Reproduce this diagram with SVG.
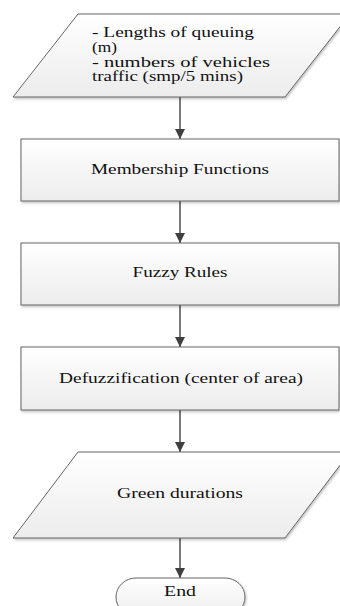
<svg xmlns="http://www.w3.org/2000/svg" width="340" height="606" viewBox="0 0 340 606">
<defs>
<linearGradient id="g" x1="0" y1="0" x2="0" y2="1">
<stop offset="0" stop-color="#ffffff"/>
<stop offset="1" stop-color="#ececec"/>
</linearGradient>
<marker id="ah" viewBox="0 0 10 10" refX="10" refY="5" markerWidth="10" markerHeight="10" markerUnits="userSpaceOnUse" orient="auto">
<path d="M0,0 L10,5 L0,10 z" fill="#3f3f3f"/>
</marker>
<filter id="sh" x="-5%" y="-5%" width="115%" height="120%">
<feDropShadow dx="1" dy="1.5" stdDeviation="0.8" flood-color="#000" flood-opacity="0.25"/>
</filter>
</defs>
<style>
.shape{fill:url(#g);stroke:#666666;stroke-width:1;filter:url(#sh)}
text{font-family:'Liberation Serif','Times New Roman','DejaVu Serif',serif;font-size:14px;fill:#111}
.c{text-anchor:middle}
.conn{stroke:#3f3f3f;stroke-width:1.4;fill:none;marker-end:url(#ah)}
</style>
<rect width="340" height="606" fill="#ffffff"/>
<g id="connectors">
<line class="conn" x1="180" y1="97" x2="180" y2="139"/>
<line class="conn" x1="180" y1="201" x2="180" y2="243"/>
<line class="conn" x1="180" y1="305" x2="180" y2="347"/>
<line class="conn" x1="180" y1="410" x2="180" y2="452"/>
<line class="conn" x1="180" y1="538" x2="180" y2="578"/>
</g>
<g id="input">
<polygon class="shape" points="78,14 350,14 285,97 13,97"/>
<text x="92" y="37" textLength="162" lengthAdjust="spacingAndGlyphs">- Lengths of queuing</text>
<text x="92" y="52" textLength="25" lengthAdjust="spacingAndGlyphs">(m)</text>
<text x="92" y="67" textLength="178" lengthAdjust="spacingAndGlyphs">- numbers of vehicles</text>
<text x="92" y="81" textLength="151" lengthAdjust="spacingAndGlyphs">traffic (smp/5 mins)</text>
</g>
<g id="membership">
<rect class="shape" x="21" y="139" width="318" height="62"/>
<text class="c" x="180" y="174" textLength="178" lengthAdjust="spacingAndGlyphs">Membership Functions</text>
</g>
<g id="rules">
<rect class="shape" x="21" y="243" width="318" height="62"/>
<text class="c" x="180" y="277" textLength="95" lengthAdjust="spacingAndGlyphs">Fuzzy Rules</text>
</g>
<g id="defuzz">
<rect class="shape" x="21" y="347" width="318" height="63"/>
<text class="c" x="181" y="383" textLength="244" lengthAdjust="spacingAndGlyphs">Defuzzification (center of area)</text>
</g>
<g id="output">
<polygon class="shape" points="78,452 350,452 285,538 13,538"/>
<text class="c" x="180" y="498" textLength="126" lengthAdjust="spacingAndGlyphs">Green durations</text>
</g>
<g id="end">
<rect class="shape" x="116" y="578" width="129" height="38" rx="20" ry="19"/>
<text class="c" x="180" y="596" textLength="32" lengthAdjust="spacingAndGlyphs">End</text>
</g>
</svg>
